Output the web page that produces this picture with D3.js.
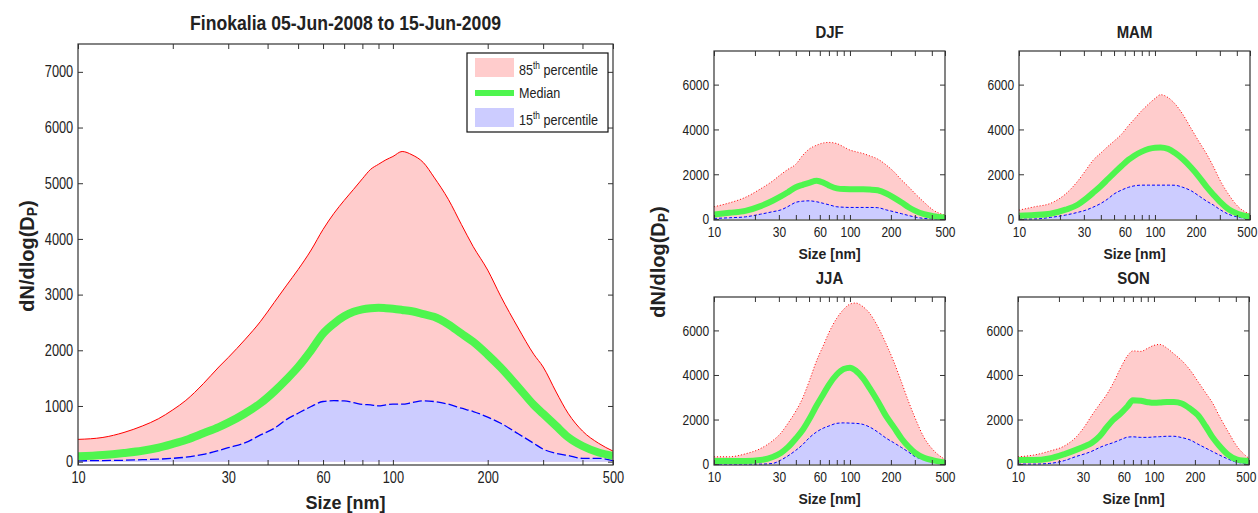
<!DOCTYPE html>
<html lang="en">
<head>
<meta charset="UTF-8">
<title>Finokalia size distributions</title>
<script src="https://cdnjs.cloudflare.com/ajax/libs/d3/7.8.5/d3.min.js"></script>
<style>
  body { margin: 0; background: #fff; }
  svg text { fill: #222; }
  .narrow { font-family: 'Liberation Sans', Arial, sans-serif; }
  .bold { font-family: 'Liberation Sans', Arial, sans-serif; font-weight: bold; }
  .tick line { stroke: #333; }
</style>
</head>
<body>
<script>
// ---- data ----
var mainSizes  = [10, 12, 14, 16, 18, 20, 22, 25, 28, 30, 34, 38, 42, 46, 50, 55, 60, 65, 70, 75, 80, 85, 90, 95, 100, 107, 115, 125, 135, 150, 165, 180, 200, 220, 250, 280, 300, 330, 360, 400, 450, 500];
var mainP85    = [400, 435, 525, 640, 770, 930, 1100, 1400, 1700, 1870, 2200, 2520, 2860, 3170, 3450, 3800, 4170, 4460, 4690, 4890, 5080, 5250, 5340, 5420, 5480, 5570, 5510, 5370, 5110, 4710, 4260, 3860, 3440, 2970, 2400, 1930, 1700, 1250, 870, 550, 330, 190];
var mainMedian = [95, 119, 155, 195, 250, 320, 390, 510, 620, 700, 870, 1050, 1260, 1480, 1700, 2000, 2300, 2480, 2610, 2690, 2735, 2755, 2763, 2755, 2745, 2725, 2700, 2650, 2600, 2465, 2300, 2150, 1920, 1690, 1340, 1020, 860, 640, 440, 280, 165, 107];
var mainP15    = [15, 20, 25, 35, 45, 60, 80, 130, 200, 250, 340, 480, 600, 760, 870, 990, 1080, 1095, 1090, 1060, 1030, 1020, 1003, 1020, 1032, 1032, 1060, 1092, 1080, 1032, 960, 900, 800, 690, 500, 330, 225, 150, 110, 60, 60, 18];

var seasonSizes = [10, 13, 17, 22, 27, 31, 35, 40, 45, 50, 57, 64, 70, 80, 90, 100, 110, 125, 140, 160, 185, 210, 240, 270, 300, 350, 410, 500];

var djfP85    = [550, 725, 970, 1350, 1700, 1990, 2220, 2450, 2850, 3120, 3300, 3400, 3420, 3370, 3220, 3080, 3010, 2925, 2820, 2680, 2410, 2120, 1740, 1440, 1150, 760, 400, 178];
var djfMedian = [208, 280, 365, 580, 820, 1010, 1200, 1420, 1530, 1620, 1708, 1620, 1500, 1370, 1340, 1336, 1336, 1336, 1320, 1285, 1145, 960, 740, 530, 380, 220, 134, 74];
var djfP15    = [30, 60, 100, 220, 330, 410, 560, 750, 800, 815, 772, 700, 640, 550, 530, 520, 520, 520, 520, 510, 410, 330, 240, 160, 95, 30, 10, 0];

var mamP85    = [400, 550, 700, 1120, 1690, 2180, 2620, 2950, 3240, 3480, 3800, 4180, 4440, 4840, 5140, 5380, 5550, 5420, 5150, 4680, 4030, 3470, 2900, 2320, 1750, 1080, 550, 223];
var mamMedian = [149, 180, 240, 420, 640, 900, 1170, 1480, 1780, 2050, 2380, 2650, 2820, 3010, 3130, 3185, 3190, 3130, 2960, 2680, 2290, 1900, 1440, 1080, 780, 430, 230, 104];
var mamP15    = [0, 5, 74, 180, 300, 400, 530, 700, 900, 1120, 1300, 1420, 1480, 1515, 1515, 1515, 1515, 1515, 1510, 1420, 1260, 1040, 800, 620, 430, 210, 90, 0];

var jjaP85    = [328, 330, 460, 700, 1050, 1390, 1830, 2380, 2980, 3700, 4660, 5350, 5900, 6550, 6950, 7180, 7230, 7060, 6760, 6180, 5380, 4600, 3660, 2800, 2100, 1200, 630, 209];
var jjaMedian = [134, 134, 134, 180, 320, 500, 760, 1150, 1540, 2000, 2640, 3160, 3560, 4020, 4270, 4330, 4200, 3850, 3400, 2820, 2140, 1660, 1140, 780, 520, 290, 170, 75];
var jjaP15    = [0, 0, 0, 0, 30, 180, 370, 620, 880, 1170, 1450, 1620, 1710, 1830, 1850, 1840, 1830, 1780, 1660, 1440, 1160, 960, 740, 540, 340, 210, 110, 30];

var sonP85    = [328, 405, 580, 820, 1240, 1700, 2200, 2700, 3130, 3620, 4330, 4870, 5080, 5060, 5200, 5330, 5370, 5200, 4950, 4650, 4210, 3720, 3200, 2740, 2200, 1470, 780, 254];
var sonMedian = [179, 179, 250, 450, 650, 800, 960, 1260, 1660, 1980, 2280, 2600, 2866, 2840, 2780, 2750, 2760, 2790, 2790, 2720, 2480, 2200, 1700, 1200, 850, 430, 200, 134];
var sonP15    = [0, 0, 30, 160, 350, 460, 580, 750, 870, 960, 1100, 1210, 1225, 1200, 1200, 1220, 1230, 1250, 1250, 1190, 1080, 900, 720, 560, 420, 230, 80, 30];

var xMajorTicks = [10, 30, 60, 100, 200, 500];
var xMinorTicks = [20, 40, 50, 70, 80, 90, 300, 400];
var mainYTicks = [0, 1000, 2000, 3000, 4000, 5000, 6000, 7000];
var seasonYTicks = [0, 2000, 4000, 6000];
var legendLabels = [["85", "th", " percentile"], ["Median", "", ""], ["15", "th", " percentile"]];

var pink = "#ffcccc", lilac = "#ccccff", green = "#4ef54e";
var squeeze = "scale(0.8,1)";   // the figure's fonts are condensed

var svg = d3.select("body").append("svg")
    .attr("width", 1258)
    .attr("height", 513);

function panel(o) {
  var g = svg.append("g").attr("transform", "translate(" + o.left + "," + o.top + ")");
  var x = d3.scaleLog().domain([10, 500]).range([0, o.width]);
  var y = d3.scaleLinear().domain([o.ymin, 7500]).range([o.height, 0]);
  var id = "clip" + o.name;

  g.append("clipPath").attr("id", id)
    .append("rect").attr("width", o.width).attr("height", o.height);

  var pts = o.sizes.map(function(s, i) {
    return { s: s, hi: o.hi[i], med: o.med[i], lo: o.lo[i] };
  });
  var plot = g.append("g").attr("clip-path", "url(#" + id + ")");
  var px = function(d) { return x(d.s); };

  plot.append("path").datum(pts)
    .attr("fill", pink)
    .attr("d", d3.area().curve(d3.curveMonotoneX).x(px).y0(y(0)).y1(function(d) { return y(d.hi); }));
  plot.append("path").datum(pts)
    .attr("fill", "none").attr("stroke", "red").attr("stroke-width", 1)
    .attr("stroke-dasharray", o.small ? "1,2" : null)
    .attr("d", d3.line().curve(d3.curveMonotoneX).x(px).y(function(d) { return y(d.hi); }));
  plot.append("path").datum(pts)
    .attr("fill", lilac)
    .attr("d", d3.area().curve(d3.curveMonotoneX).x(px).y0(y(0)).y1(function(d) { return y(d.lo); }));
  plot.append("path").datum(pts)
    .attr("fill", "none").attr("stroke", "blue").attr("stroke-width", o.small ? 1 : 1.3)
    .attr("stroke-dasharray", o.small ? "3,2" : "9,3")
    .attr("d", d3.line().curve(d3.curveMonotoneX).x(px).y(function(d) { return y(d.lo); }));
  plot.append("path").datum(pts)
    .attr("fill", "none").attr("stroke", green).attr("stroke-width", o.small ? 6 : 8)
    .attr("d", d3.line().curve(d3.curveMonotoneX).x(px).y(function(d) { return y(d.med); }));

  // axes, ticks pointing inward
  var allX = xMajorTicks.concat(xMinorTicks).sort(d3.ascending);
  var fmt = function(d) { return xMajorTicks.indexOf(d) >= 0 ? d : ""; };
  var bottom = g.append("g").attr("class", "narrow")
    .attr("transform", "translate(0," + o.height + ")")
    .call(d3.axisBottom(x).tickValues(allX).tickFormat(fmt).tickSizeInner(-5).tickSizeOuter(0).tickPadding(o.small ? 6 : 7));
  g.append("g")
    .call(d3.axisTop(x).tickValues(allX).tickFormat("").tickSizeInner(-5).tickSizeOuter(0));
  g.append("g").attr("class", "narrow")
    .call(d3.axisLeft(y).tickValues(o.yticks).tickFormat(d3.format("d")).tickSizeInner(-5).tickSizeOuter(0).tickPadding(6));
  g.append("g")
    .attr("transform", "translate(" + o.width + ",0)")
    .call(d3.axisRight(y).tickValues(o.yticks).tickFormat("").tickSizeInner(-5).tickSizeOuter(0));
  g.selectAll(".domain").remove();
  g.selectAll(".narrow").attr("font-family", null).attr("font-size", null);
  g.selectAll(".tick text").attr("font-size", o.small ? 15 : 16).attr("transform", squeeze);
  // keep the last size label inside the page at the right edge
  if (o.left + o.width > 1240) {
    bottom.selectAll(".tick text").filter(function(d) { return d === 500; }).attr("x", -4);
  }

  g.append("rect").attr("width", o.width).attr("height", o.height)
    .attr("fill", "none").attr("stroke", "#333").attr("stroke-width", 1.2);

  g.append("text").attr("class", "bold")
    .attr("transform", "translate(" + (o.width / 2) + "," + o.titleY + ") scale(0.88,1)")
    .attr("text-anchor", "middle").attr("dominant-baseline", "central")
    .attr("font-size", o.small ? 17 : 20)
    .text(o.title);
  g.append("text").attr("class", "bold")
    .attr("x", o.width / 2).attr("y", o.height + o.xlabY)
    .attr("text-anchor", "middle").attr("dominant-baseline", "central")
    .attr("font-size", o.small ? 14 : 18)
    .text("Size [nm]");
  return g;
}

function ylabel(cx, cy) {
  var t = svg.append("text").attr("class", "bold")
    .attr("transform", "translate(" + cx + "," + cy + ") rotate(-90)")
    .attr("text-anchor", "middle").attr("dominant-baseline", "central")
    .attr("font-size", 20);
  t.append("tspan").text("dN/dlog(D");
  t.append("tspan").attr("font-size", 14).attr("dy", 5).text("P");
  t.append("tspan").attr("dy", -5).text(")");
}

panel({ name: "main", left: 78, top: 44, width: 535, height: 421, ymin: -60,
  sizes: mainSizes, hi: mainP85, med: mainMedian, lo: mainP15, yticks: mainYTicks,
  title: "Finokalia 05-Jun-2008 to 15-Jun-2009", titleY: -21, xlabY: 38, small: false });

panel({ name: "djf", left: 714, top: 51, width: 231, height: 169, ymin: -40,
  sizes: seasonSizes, hi: djfP85, med: djfMedian, lo: djfP15, yticks: seasonYTicks,
  title: "DJF", titleY: -19, xlabY: 34, small: true });
panel({ name: "mam", left: 1019, top: 51, width: 231, height: 169, ymin: -40,
  sizes: seasonSizes, hi: mamP85, med: mamMedian, lo: mamP15, yticks: seasonYTicks,
  title: "MAM", titleY: -19, xlabY: 34, small: true });
panel({ name: "jja", left: 714, top: 297, width: 231, height: 168, ymin: -40,
  sizes: seasonSizes, hi: jjaP85, med: jjaMedian, lo: jjaP15, yticks: seasonYTicks,
  title: "JJA", titleY: -19, xlabY: 34, small: true });
panel({ name: "son", left: 1018, top: 297, width: 231, height: 168, ymin: -40,
  sizes: seasonSizes, hi: sonP85, med: sonMedian, lo: sonP15, yticks: seasonYTicks,
  title: "SON", titleY: -19, xlabY: 34, small: true });

ylabel(27, 256);
ylabel(658, 262);

// legend
var lg = svg.append("g").attr("transform", "translate(467,53)");
lg.append("rect").attr("width", 141).attr("height", 79)
  .attr("fill", "#fff").attr("stroke", "#111").attr("stroke-width", 1.2);
lg.append("rect").attr("x", 8).attr("y", 5).attr("width", 39).attr("height", 19).attr("fill", pink);
lg.append("rect").attr("x", 8).attr("y", 37).attr("width", 39).attr("height", 6).attr("fill", green);
lg.append("rect").attr("x", 8).attr("y", 55).attr("width", 39).attr("height", 19).attr("fill", lilac);
legendLabels.forEach(function(l, i) {
  var t = lg.append("text").attr("class", "narrow")
    .attr("transform", "translate(52," + [22, 45, 72][i] + ") scale(0.84,1)")
    .attr("font-size", 15);
  t.append("tspan").text(l[0]);
  if (l[1]) {
    t.append("tspan").attr("font-size", 10).attr("dy", -6).text(l[1]);
    t.append("tspan").attr("dy", 6).text(l[2]);
  }
});
</script>
</body>
</html>
